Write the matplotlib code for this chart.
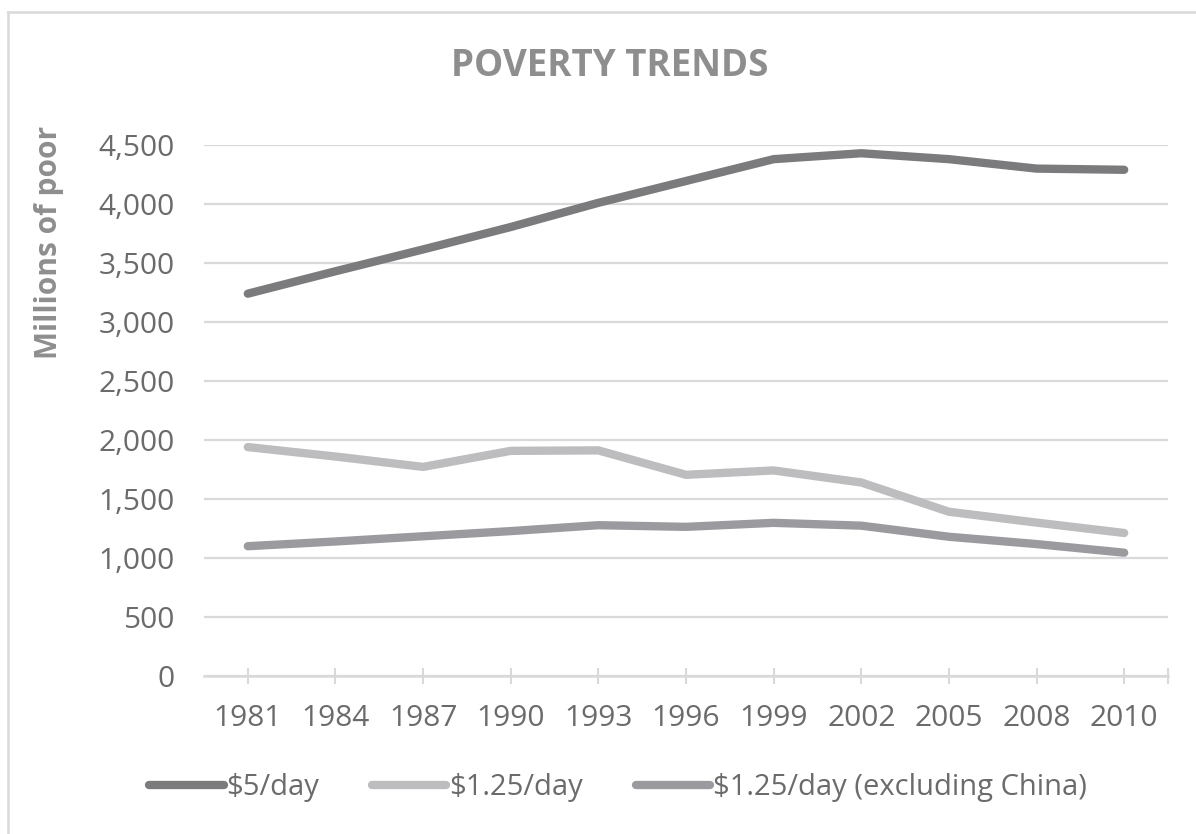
import numpy as np
import matplotlib
matplotlib.use("Agg")
import matplotlib.pyplot as plt
from matplotlib.lines import Line2D

plt.rcParams['font.family'] = ['Open Sans', 'DejaVu Sans']

# data (millions of poor)
years = ['1981', '1984', '1987', '1990', '1993', '1996', '1999', '2002', '2005', '2008', '2010']
five_day = [3240, 3430, 3615, 3805, 4010, 4195, 4380, 4430, 4380, 4300, 4290]
dollar125 = [1940, 1860, 1772, 1908, 1912, 1705, 1742, 1640, 1392, 1300, 1212]
dollar125_ex_china = [1100, 1140, 1184, 1228, 1278, 1264, 1298, 1274, 1180, 1118, 1045]
series_names = ['$5/day', '$1.25/day', '$1.25/day (excluding China)']
series_colors = ['#7b7b7e', '#bdbdbf', '#9b9b9f']

W, H = 1196, 834
fig = plt.figure(figsize=(W / 100, H / 100), dpi=100)
ax = fig.add_axes([204 / W, 1 - 676 / H, (1168 - 204) / W, (676 - 145) / H])

grid_c = '#d9d9d9'
tick_c = '#6b6b6b'

x = np.arange(len(years))
for vals, name, col in zip([five_day, dollar125, dollar125_ex_china], series_names, series_colors):
    ax.plot(x, vals, color=col, lw=6, solid_capstyle='round', solid_joinstyle='round', label=name)

ax.set_xlim(-0.5, len(years) - 0.5)
ax.set_ylim(0, 4500)
ax.set_yticks(np.arange(0, 4501, 500))
ax.set_yticklabels([f'{v:,}' for v in range(0, 4501, 500)])
ax.set_xticks(x)
ax.set_xticklabels(years)
ax.set_xticks([len(years) - 0.5], minor=True)

ax.grid(axis='y', color=grid_c, lw=1.6)
ax.set_axisbelow(True)
for s in ['left', 'right', 'top']:
    ax.spines[s].set_visible(False)
ax.spines['bottom'].set_color(grid_c)
ax.spines['bottom'].set_linewidth(1.8)

ax.tick_params(axis='y', length=0, pad=21, labelsize=21.5, labelcolor=tick_c)
ax.tick_params(axis='x', which='both', direction='inout', length=11, width=1.5,
               color=grid_c, pad=15, labelsize=21.5, labelcolor=tick_c)

fig.text(610 / W, 1 - 66 / H, 'POVERTY TRENDS', ha='center', va='center',
         fontsize=26.5, fontweight='bold', color='#8e8e8e')
fig.text(49 / W, 1 - 242 / H, 'Millions of poor', ha='center', va='center',
         rotation=90, fontsize=21.5, fontweight='bold', color='#8e8e8e')

handles = [Line2D([], [], color=c, lw=6, solid_capstyle='round') for c in series_colors]
fig.legend(handles, series_names, loc='center', bbox_to_anchor=(618 / W, 1 - 788 / H),
           ncol=3, frameon=False, fontsize=21, labelcolor=tick_c,
           handlelength=2.55, handletextpad=0.1, columnspacing=1.8)

# outer chart frame (only left and top edges visible)
fig.add_artist(Line2D([8 / W, 8 / W], [0, 1 - 12 / H], color=grid_c, lw=1.8))
fig.add_artist(Line2D([8 / W, 1], [1 - 12 / H, 1 - 12 / H], color=grid_c, lw=1.8))

fig.savefig('out.png', dpi=100)
